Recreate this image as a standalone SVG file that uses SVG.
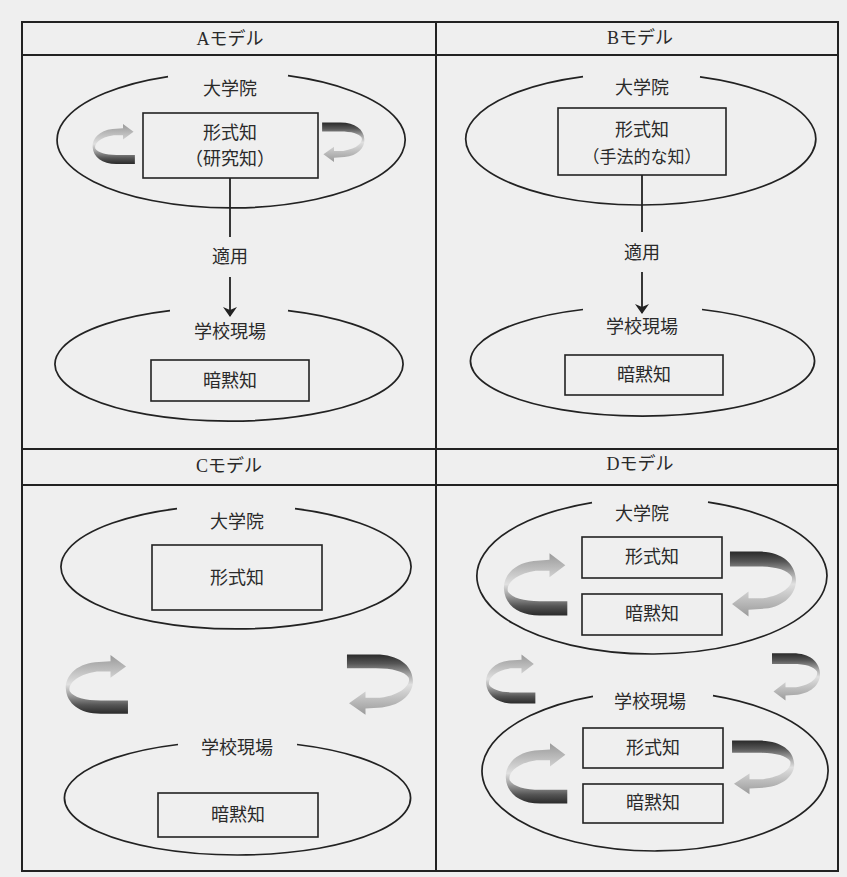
<svg xmlns="http://www.w3.org/2000/svg" xmlns:xlink="http://www.w3.org/1999/xlink" width="847" height="877" viewBox="0 0 847 877">
<defs>
<style>
.ln{stroke:#222;stroke-width:2;fill:none}
.el{stroke:#222;stroke-width:1.7;fill:none}
.bx{stroke:#222;stroke-width:1.6;fill:none}
.t{font-family:"Liberation Serif","Noto Sans CJK JP",serif;fill:#2a2a2a;text-anchor:middle;dominant-baseline:central;font-size:18px}
.ttl{font-size:18px}
.con{stroke:#222;stroke-width:1.8;fill:none}
</style>
<linearGradient id="curlGrad" x1="0" y1="0" x2="0" y2="1">
<stop offset="0" stop-color="#9a9a9a"/>
<stop offset="0.25" stop-color="#bdbdbd"/>
<stop offset="0.5" stop-color="#e0e0e0"/>
<stop offset="0.68" stop-color="#a0a0a0"/>
<stop offset="0.85" stop-color="#555"/>
<stop offset="1" stop-color="#2a2a2a"/>
</linearGradient>
<marker id="ah" viewBox="0 0 10 14" refX="9" refY="7" markerWidth="10" markerHeight="14" markerUnits="userSpaceOnUse" orient="auto">
<path d="M0 0 L10 7 L0 14 L3 7 Z" fill="#222"/>
</marker>
<path id="curl" d="M 68 47 L 40 47 C 24 47 12 44 8 38 C 6 32 14 22 36 19 L 50 19 L 50 25 L 66 14 L 50 3 L 50 9 L 34 10 C 14 12 3 24 4 36 C 5 50 18 60 40 60 L 68 60 Z" fill="url(#curlGrad)"/>
</defs>
<rect x="0" y="0" width="847" height="877" fill="#efefef"/>

<g id="frame">
<rect x="22" y="22" width="816" height="849" class="ln"/>
<line x1="22" y1="55" x2="838" y2="55" class="ln"/>
<line x1="436" y1="22" x2="436" y2="871" class="ln"/>
<line x1="22" y1="449" x2="838" y2="449" class="ln"/>
<line x1="22" y1="485" x2="838" y2="485" class="ln"/>
<text class="t ttl" x="230" y="39">Aモデル</text>
<text class="t ttl" x="640" y="38">Bモデル</text>
<text class="t ttl" x="229" y="466">Cモデル</text>
<text class="t ttl" x="640" y="464">Dモデル</text>
</g>

<!-- A model -->
<g id="A-univ">
<path class="el" d="M 288 75.7 A 174 68 0 1 1 168 76.6"/>
<text class="t" x="230" y="89">大学院</text>
</g>
<g id="A-formal">
<rect class="bx" x="143" y="113" width="175" height="65"/>
<text class="t" x="230" y="133">形式知</text>
<text class="t" x="230" y="159">（研究知）</text>
</g>
<g id="A-school">
<path class="el" d="M 288 310.6 A 174 57 0 1 1 170 310.6"/>
<text class="t" x="230" y="332">学校現場</text>
</g>
<g id="A-tacit">
<rect class="bx" x="151" y="360" width="158" height="41"/>
<text class="t" x="230" y="381">暗黙知</text>
</g>

<!-- B model -->
<g id="B-univ">
<path class="el" d="M 700 76.9 A 175 66 0 1 1 583 76.7"/>
<text class="t" x="642" y="88">大学院</text>
</g>
<g id="B-formal">
<rect class="bx" x="558" y="108" width="168" height="67"/>
<text class="t" x="642" y="130">形式知</text>
<text class="t" x="642" y="157" style="font-size:17px">（手法的な知）</text>
</g>
<g id="B-school">
<path class="el" d="M 702 309.5 A 172 55 0 1 1 583 309.5"/>
<text class="t" x="642" y="327">学校現場</text>
</g>
<g id="B-tacit">
<rect class="bx" x="565" y="355" width="158" height="40"/>
<text class="t" x="644" y="375">暗黙知</text>
</g>

<!-- C model -->
<g id="C-univ">
<path class="el" d="M 295 508.6 A 175 62 0 1 1 177 508.6"/>
<text class="t" x="237" y="522">大学院</text>
</g>
<g id="C-formal">
<rect class="bx" x="152" y="545" width="170" height="65"/>
<text class="t" x="237" y="578">形式知</text>
</g>
<g id="C-school">
<path class="el" d="M 297 744.5 A 173 57 0 1 1 178 744.5"/>
<text class="t" x="237" y="748">学校現場</text>
</g>
<g id="C-tacit">
<rect class="bx" x="158" y="793" width="160" height="44"/>
<text class="t" x="238" y="815">暗黙知</text>
</g>

<!-- D model -->
<g id="D-univ">
<path class="el" d="M 708 502.1 A 175 78 0 1 1 592 502.7"/>
<text class="t" x="642" y="514">大学院</text>
</g>
<g id="D-univ-formal">
<rect class="bx" x="582" y="537" width="140" height="41"/>
<text class="t" x="652" y="557">形式知</text>
</g>
<g id="D-univ-tacit">
<rect class="bx" x="582" y="594" width="140" height="41"/>
<text class="t" x="652" y="614">暗黙知</text>
</g>
<g id="D-school">
<path class="el" d="M 713 695.6 A 173 80 0 1 1 593 696.3"/>
<text class="t" x="650" y="702">学校現場</text>
</g>
<g id="D-school-formal">
<rect class="bx" x="583" y="728" width="140" height="40"/>
<text class="t" x="653" y="748">形式知</text>
</g>
<g id="D-school-tacit">
<rect class="bx" x="583" y="784" width="140" height="39"/>
<text class="t" x="653" y="803">暗黙知</text>
</g>

<g id="connectors">
<line class="con" x1="230" y1="178" x2="230" y2="237"/>
<text class="t" x="230" y="257">適用</text>
<line class="con" x1="230" y1="277" x2="230" y2="316" marker-end="url(#ah)"/>
<line class="con" x1="642" y1="175" x2="642" y2="232"/>
<text class="t" x="642" y="253">適用</text>
<line class="con" x1="642" y1="272" x2="642" y2="313" marker-end="url(#ah)"/>
</g>

<g id="cycles">
<use xlink:href="#curl" href="#curl" transform="translate(90,122) scale(0.66,0.7)"/>
<use xlink:href="#curl" href="#curl" transform="translate(367,164) rotate(180) scale(0.66,0.69)"/>
<use xlink:href="#curl" href="#curl" transform="translate(62,652) scale(0.97,1.03)"/>
<use xlink:href="#curl" href="#curl" transform="translate(417,718) rotate(180) scale(1.03,1.06)"/>
<use xlink:href="#curl" href="#curl" transform="translate(500,550) scale(0.99,1.09)"/>
<use xlink:href="#curl" href="#curl" transform="translate(800,620) rotate(180) scale(1.03,1.14)"/>
<use xlink:href="#curl" href="#curl" transform="translate(483,652) scale(0.77,0.86)"/>
<use xlink:href="#curl" href="#curl" transform="translate(823,703) rotate(180) scale(0.75,0.83)"/>
<use xlink:href="#curl" href="#curl" transform="translate(502,740) scale(0.96,1.06)"/>
<use xlink:href="#curl" href="#curl" transform="translate(798,797) rotate(180) scale(0.97,0.94)"/>
</g>
</svg>
